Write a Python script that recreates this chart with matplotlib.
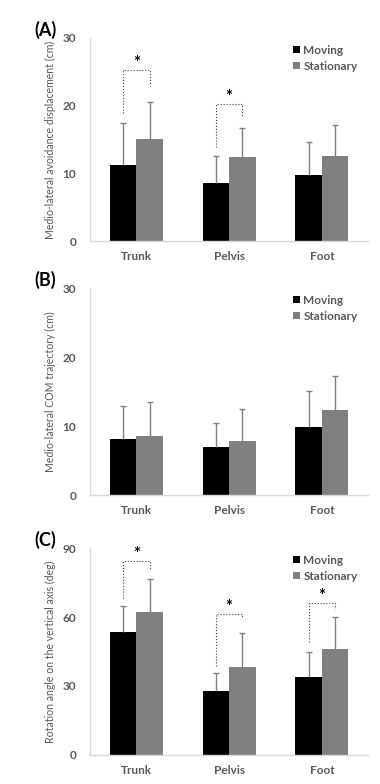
import matplotlib
matplotlib.use('Agg')
import matplotlib.pyplot as plt
import numpy as np

plt.rcParams['font.family'] = ['Lato', 'DejaVu Sans']

categories = ['Trunk', 'Pelvis', 'Foot']

# (A) medio-lateral avoidance displacement (cm)
a_moving = [11.3, 8.6, 9.8]
a_moving_sd = [6.1, 4.0, 4.8]
a_stat = [15.1, 12.4, 12.6]
a_stat_sd = [5.4, 4.3, 4.5]
a_sig = [(0, 18.9, 25.2, 22.9), (1, 13.9, 20.3, 18.3)]

# (B) medio-lateral COM trajectory (cm)
b_moving = [8.1, 7.0, 9.9]
b_moving_sd = [4.8, 3.5, 5.2]
b_stat = [8.6, 7.8, 12.3]
b_stat_sd = [4.9, 4.6, 5.0]
b_sig = []

# (C) rotation angle on the vertical axis (deg)
c_moving = [53.3, 28.0, 34.1]
c_moving_sd = [11.6, 7.6, 10.9]
c_stat = [62.0, 38.3, 46.3]
c_stat_sd = [14.5, 14.7, 13.6]
c_sig = [(0, 68.2, 84.5, 80.5), (1, 38.9, 61.4, 59.5), (2, 49.3, 66.0, 63.4)]

panels = [
    ('(A)', 'Medio-lateral avoidance displacement (cm)', a_moving, a_moving_sd, a_stat, a_stat_sd, a_sig, 30, [0, 10, 20, 30]),
    ('(B)', 'Medio-lateral COM trajectory (cm)', b_moving, b_moving_sd, b_stat, b_stat_sd, b_sig, 30, [0, 10, 20, 30]),
    ('(C)', 'Rotation angle on the vertical axis (deg)', c_moving, c_moving_sd, c_stat, c_stat_sd, c_sig, 90, [0, 30, 60, 90]),
]

# axes rectangles in figure fractions (left, bottom, width, height)
rects = [
    (0.237, 0.6926, 0.732, 0.259),
    (0.237, 0.3686, 0.732, 0.264),
    (0.237, 0.0370, 0.732, 0.264),
]

grey_txt = '#595959'
fig = plt.figure(figsize=(3.8, 7.84), dpi=100)
x = np.arange(len(categories))
w = 0.286


def up_err(ax, xs, vals, sd):
    # only the upper half of the error bar, no cap at the bar top
    _, caps, _ = ax.errorbar(xs, vals, yerr=[np.zeros(len(vals)), sd], fmt='none',
                             ecolor='#808080', elinewidth=1, capsize=2.5, capthick=1)
    caps[0].set_visible(False)


for (tag, ylabel, mv, mv_sd, st, st_sd, sig, ymax, yticks), rect in zip(panels, rects):
    ax = fig.add_axes(rect)
    ax.bar(x - w / 2, mv, w, color='black', label='Moving')
    ax.bar(x + w / 2, st, w, color='#808080', label='Stationary')
    up_err(ax, x - w / 2, mv, mv_sd)
    up_err(ax, x + w / 2, st, st_sd)

    for cat, yl, yt, yr in sig:
        ax.plot([cat - w / 2, cat - w / 2, cat + w / 2, cat + w / 2], [yl, yt, yt, yr],
                linestyle=':', color='#404040', linewidth=0.8)
        ax.text(cat, yt - ymax * 0.005, '*', ha='center', va='bottom',
                fontsize=12, fontweight='bold', color='black')

    ax.set_xlim(-0.5, 2.5)
    ax.set_ylim(0, ymax)
    ax.set_yticks(yticks)
    ax.set_xticks(x)
    ax.set_xticklabels(categories)
    ax.tick_params(axis='y', length=0, labelsize=8.5, colors=grey_txt, pad=10)
    ax.tick_params(axis='x', length=0, labelsize=8.5, colors=grey_txt, pad=7)
    for lbl in ax.get_xticklabels() + ax.get_yticklabels():
        lbl.set_fontweight('bold')
    for s in ['top', 'right']:
        ax.spines[s].set_visible(False)
    for s in ['left', 'bottom']:
        ax.spines[s].set_color('#d9d9d9')
        ax.spines[s].set_linewidth(1)
    ax.set_ylabel(ylabel, fontsize=7.6, color=grey_txt, labelpad=5)
    ax.yaxis.label.set_va('bottom')

    leg = ax.legend(loc='upper right', bbox_to_anchor=(1.0, 1.02), frameon=False,
                    handlelength=0.6, handleheight=0.6, handletextpad=0.3,
                    labelspacing=0.45, prop={'size': 8.5, 'weight': 'bold'})
    for t in leg.get_texts():
        t.set_color(grey_txt)

    ax.text(-0.20, 1.04, tag, transform=ax.transAxes, fontsize=13,
            fontweight='bold', ha='left', va='center')

fig.savefig('out.png', dpi=100)
